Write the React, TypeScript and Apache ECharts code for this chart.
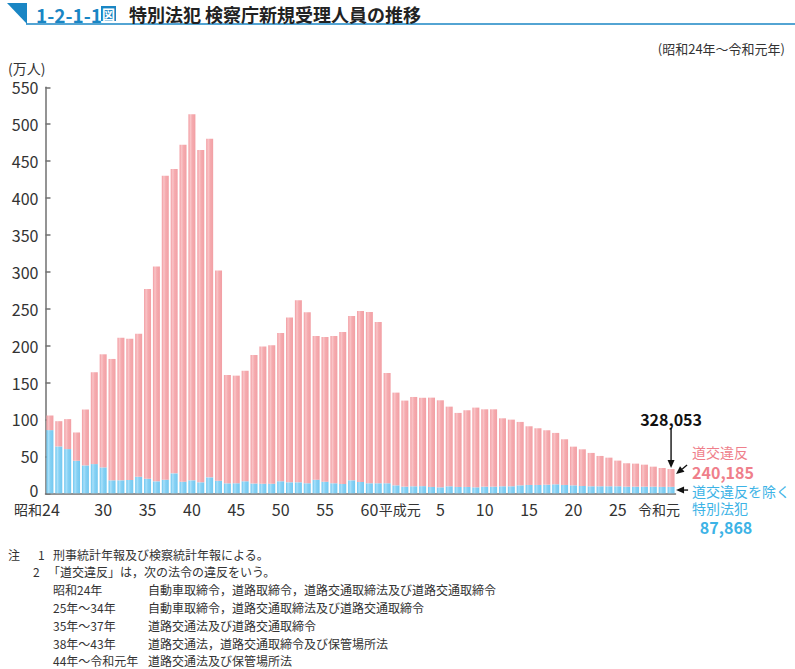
import React, { useEffect, useRef } from 'react';
import * as echarts from 'echarts';

// 昭和24年～令和元年
const categories: string[] = [
  '昭和24', '25', '26', '27', '28', '29', '30', '31', '32', '33', '34', '35', '36', '37', '38', '39',
  '40', '41', '42', '43', '44', '45', '46', '47', '48', '49', '50', '51', '52', '53', '54', '55',
  '56', '57', '58', '59', '60', '61', '62', '63',
  '平成元', '2', '3', '4', '5', '6', '7', '8', '9', '10', '11', '12', '13', '14', '15', '16', '17',
  '18', '19', '20', '21', '22', '23', '24', '25', '26', '27', '28', '29', '30',
  '令和元',
];

// 道交違反を除く特別法犯（万人）
const otherValues: number[] = [
  85.6, 63.5, 59.9, 44.1, 37.8, 39.6, 35.1, 17.6, 17.6, 18.0, 22.5, 19.8, 16.2, 18.5, 27.0, 15.8,
  17.6, 14.9, 21.6, 17.1, 13.5, 13.6, 16.3, 13.3, 13.1, 13.1, 16.3, 14.9, 14.9, 13.6, 18.5, 15.8,
  13.6, 12.6, 17.6, 15.4, 13.6, 13.6, 13.6, 10.8,
  9.0, 9.5, 9.7, 8.6, 8.1, 9.5, 8.6, 8.6, 8.1, 9.0, 9.0, 9.5, 9.5, 10.8, 11.3, 11.3, 11.7,
  12.2, 11.3, 10.8, 9.9, 9.5, 9.5, 9.5, 9.5, 9.0, 9.0, 9.0, 9.0, 8.7,
  8.79,
];

// 道交違反（万人）
const trafficValues: number[] = [
  19.8, 34.2, 40.6, 38.3, 75.7, 124.4, 153.2, 164.4, 193.2, 191.5, 193.7, 256.8, 291.0, 411.7, 412.2, 456.3,
  496.0, 450.0, 458.6, 284.7, 146.8, 145.8, 149.7, 174.1, 185.6, 187.4, 201.0, 223.1, 246.6, 231.7, 194.7, 196.0,
  199.6, 206.0, 222.7, 231.6, 232.1, 218.6, 149.4, 125.6,
  116.6, 121.0, 119.7, 121.0, 117.9, 107.9, 100.3, 103.9, 108.0, 104.8, 104.8, 92.1, 90.3, 85.9, 79.5, 76.8, 73.7,
  69.6, 61.9, 52.4, 49.7, 45.2, 41.1, 38.8, 34.8, 31.7, 31.2, 29.8, 27.1, 25.6,
  24.02,
];

const shownLabelIndex: number[] = [0, 6, 11, 16, 21, 26, 31, 36, 40, 44, 49, 54, 59, 64, 70];

const lastTotalText = '328,053';
const lastTrafficText = '240,185';
const lastOtherText = '87,868';

const noteLines: { a: string; ax: number; b: string; bx: number }[] = [
  { a: '1', ax: 38, b: '刑事統計年報及び検察統計年報による。', bx: 53 },
  { a: '2', ax: 33, b: '「道交違反」は，次の法令の違反をいう。', bx: 48 },
  { a: '昭和24年', ax: 53, b: '自動車取締令，道路取締令，道路交通取締法及び道路交通取締令', bx: 148 },
  { a: '25年～34年', ax: 53, b: '自動車取締令，道路交通取締法及び道路交通取締令', bx: 148 },
  { a: '35年～37年', ax: 53, b: '道路交通法及び道路交通取締令', bx: 148 },
  { a: '38年～43年', ax: 53, b: '道路交通法，道路交通取締令及び保管場所法', bx: 148 },
  { a: '44年～令和元年', ax: 53, b: '道路交通法及び保管場所法', bx: 148 },
];

const FONT = '"Noto Sans CJK JP", "Noto Sans", sans-serif';
const PINK_TEXT = '#ef7f8b';
const BLUE_TEXT = '#3db3e6';
const HEAD_BLUE = '#1a86c4';

function arrow(x1: number, y1: number, x2: number, y2: number, color: string) {
  const dx = x2 - x1;
  const dy = y2 - y1;
  const len = Math.sqrt(dx * dx + dy * dy);
  const ux = dx / len;
  const uy = dy / len;
  const hl = 8;
  const hw = 3.5;
  const bxp = x2 - ux * hl;
  const byp = y2 - uy * hl;
  return [
    {
      type: 'line',
      shape: { x1, y1, x2: bxp, y2: byp },
      style: { stroke: color, lineWidth: 1.4 },
      silent: true,
    },
    {
      type: 'polygon',
      shape: {
        points: [
          [x2, y2],
          [bxp - uy * hw, byp + ux * hw],
          [bxp + uy * hw, byp - ux * hw],
        ],
      },
      style: { fill: color },
      silent: true,
    },
  ];
}

export default function App() {
  const ref = useRef<HTMLDivElement>(null);

  useEffect(() => {
    document.body.style.margin = '0';
    if (!ref.current) return;
    const chart = echarts.init(ref.current, undefined, { renderer: 'svg' });

    const pinkGrad = new echarts.graphic.LinearGradient(0, 0, 1, 0, [
      { offset: 0, color: '#f29ba1' },
      { offset: 0.3, color: '#f9c4c7' },
      { offset: 0.55, color: '#f5abaf' },
      { offset: 1, color: '#f29fa4' },
    ]);
    const blueGrad = new echarts.graphic.LinearGradient(0, 0, 1, 0, [
      { offset: 0, color: '#69c4ee' },
      { offset: 0.3, color: '#a9e0fa' },
      { offset: 0.55, color: '#86d1f4' },
      { offset: 1, color: '#72c8f0' },
    ]);

    const staticGraphic: any[] = [
      {
        type: 'polygon',
        shape: { points: [[7, 3], [27, 3], [27, 24]] },
        style: { fill: HEAD_BLUE },
      },
      {
        type: 'line',
        shape: { x1: 26, y1: 24, x2: 795, y2: 24 },
        style: { stroke: HEAD_BLUE, lineWidth: 1.6 },
      },
      {
        type: 'text',
        x: 36,
        y: 14,
        style: {
          text: '1-2-1-1',
          fill: HEAD_BLUE,
          font: `bold 19px ${FONT}`,
          verticalAlign: 'middle',
        },
      },
      {
        type: 'rect',
        shape: { x: 101, y: 6, width: 15, height: 15 },
        style: { fill: HEAD_BLUE },
      },
      {
        type: 'text',
        x: 108.5,
        y: 13.5,
        style: {
          text: '図',
          fill: '#fff',
          font: `bold 13px ${FONT}`,
          align: 'center',
          verticalAlign: 'middle',
        },
      },
      {
        type: 'text',
        x: 129,
        y: 14,
        style: {
          text: '特別法犯 検察庁新規受理人員の推移',
          fill: '#222',
          font: `bold 18px ${FONT}`,
          verticalAlign: 'middle',
        },
      },
      {
        type: 'text',
        x: 785,
        y: 48,
        style: {
          text: '(昭和24年～令和元年)',
          fill: '#333',
          font: `13px ${FONT}`,
          align: 'right',
          verticalAlign: 'middle',
        },
      },
      {
        type: 'text',
        x: 8,
        y: 554,
        style: { text: '注', fill: '#333', font: `12px ${FONT}`, verticalAlign: 'middle' },
      },
    ];

    noteLines.forEach((n, i) => {
      const y = 554 + i * 17.8;
      staticGraphic.push({
        type: 'text',
        x: n.ax,
        y,
        style: { text: n.a, fill: '#333', font: `12px ${FONT}`, verticalAlign: 'middle' },
      });
      staticGraphic.push({
        type: 'text',
        x: n.bx,
        y,
        style: { text: n.b, fill: '#333', font: `12px ${FONT}`, verticalAlign: 'middle' },
      });
    });

    const option: any = {
      animation: false,
      textStyle: { fontFamily: FONT },
      grid: { left: 45.5, right: 119.5, top: 87.3, bottom: 175.7, containLabel: false },
      xAxis: {
        type: 'category',
        data: categories,
        boundaryGap: true,
        axisLine: { show: true, lineStyle: { color: '#707070', width: 1.5 } },
        axisTick: { show: false },
        axisLabel: {
          interval: (index: number) => shownLabelIndex.includes(index),
          margin: 8,
          color: '#333',
          fontSize: 16,
          lineHeight: 16,
          formatter: (value: string, index: number) => {
            if (index === 0) return '{k|昭和}{n|24}{sp0| }';
            if (value === '平成元') return '{k|平成元}{sp1| }';
            if (value === '令和元') return '{k|令和元}{sp2| }';
            return `{n|${value}}`;
          },
          rich: {
            n: { fontSize: 16, lineHeight: 16, color: '#333', fontFamily: FONT },
            k: { fontSize: 14, lineHeight: 16, color: '#333', fontFamily: FONT },
            sp0: { width: 26, fontSize: 14, lineHeight: 16 },
            sp1: { width: 10, fontSize: 14, lineHeight: 16 },
            sp2: { width: 24, fontSize: 14, lineHeight: 16 },
          },
        },
      },
      yAxis: {
        type: 'value',
        min: 0,
        max: 550,
        interval: 50,
        name: '(万人)',
        nameLocation: 'end',
        nameGap: 12,
        nameTextStyle: { color: '#333', fontSize: 14, lineHeight: 14, align: 'right', fontFamily: FONT },
        axisLine: { show: true, lineStyle: { color: '#707070', width: 1.5 } },
        axisTick: { show: true, inside: true, length: 5, lineStyle: { color: '#707070', width: 1.5 } },
        splitLine: { show: false },
        axisLabel: {
          color: '#333',
          fontSize: 16,
          lineHeight: 15,
          margin: 7,
          fontFamily: FONT,
          formatter: (v: number) => (v === 0 ? '{z|0}' : String(v)),
          rich: { z: { fontSize: 16, lineHeight: 15, color: '#333', padding: [0, 0, 6, 0] } },
        },
      },
      series: [
        {
          name: '道交違反を除く特別法犯',
          type: 'bar',
          stack: 'total',
          barWidth: 7,
          data: otherValues,
          itemStyle: { color: blueGrad },
        },
        {
          name: '道交違反',
          type: 'bar',
          stack: 'total',
          barWidth: 7,
          data: trafficValues,
          itemStyle: { color: pinkGrad },
        },
      ],
      graphic: staticGraphic,
    };

    chart.setOption(option);

    const last = categories.length - 1;
    const total = otherValues[last] + trafficValues[last];
    const [bx, topY] = chart.convertToPixel({ gridIndex: 0 }, [last, total]) as number[];
    const [, blueMidY] = chart.convertToPixel({ gridIndex: 0 }, [last, otherValues[last] / 2]) as number[];

    const annot: any[] = [
      ...arrow(bx, topY - 41, bx, topY - 1, '#111'),
      ...arrow(bx + 16, topY - 4, bx + 5, topY + 5, '#111'),
      ...arrow(bx + 17, blueMidY, bx + 5, blueMidY, '#111'),
      {
        type: 'text',
        x: bx,
        y: topY - 50,
        style: {
          text: lastTotalText,
          fill: '#111',
          font: `bold 16px ${FONT}`,
          lineHeight: 16,
          align: 'center',
          verticalAlign: 'middle',
        },
      },
      {
        type: 'text',
        x: bx + 21,
        y: topY - 17,
        style: { text: '道交違反', fill: PINK_TEXT, font: `14px ${FONT}`, lineHeight: 14, verticalAlign: 'middle' },
      },
      {
        type: 'text',
        x: bx + 21,
        y: topY + 3,
        style: { text: lastTrafficText, fill: PINK_TEXT, font: `bold 16px ${FONT}`, lineHeight: 16, verticalAlign: 'middle' },
      },
      {
        type: 'text',
        x: bx + 21,
        y: blueMidY + 1,
        style: { text: '道交違反を除く', fill: BLUE_TEXT, font: `14px ${FONT}`, lineHeight: 14, verticalAlign: 'middle' },
      },
      {
        type: 'text',
        x: bx + 21,
        y: blueMidY + 17.5,
        style: { text: '特別法犯', fill: BLUE_TEXT, font: `14px ${FONT}`, lineHeight: 14, verticalAlign: 'middle' },
      },
      {
        type: 'text',
        x: bx + 55,
        y: blueMidY + 37,
        style: {
          text: lastOtherText,
          fill: BLUE_TEXT,
          font: `bold 16px ${FONT}`,
          lineHeight: 16,
          align: 'center',
          verticalAlign: 'middle',
        },
      },
    ];

    chart.setOption({ graphic: [...staticGraphic, ...annot] });

    return () => {
      chart.dispose();
    };
  }, []);

  return <div ref={ref} style={{ width: 795, height: 669 }} />;
}
